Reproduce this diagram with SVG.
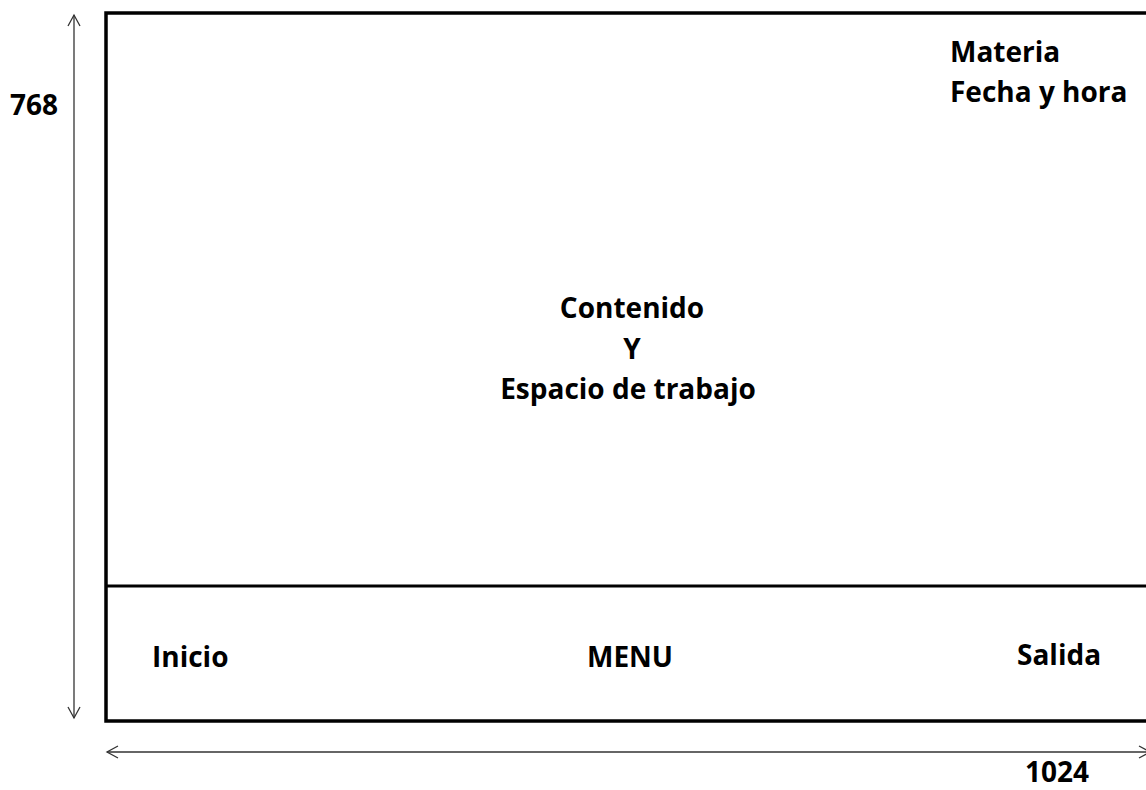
<svg xmlns="http://www.w3.org/2000/svg" width="1146" height="790" viewBox="0 0 1146 790">
<style>
.t{font-family:"Open Sans",Lato,"Liberation Sans",sans-serif;font-weight:bold;font-size:28px;fill:#000}
.dim{stroke:#333;stroke-width:1.3;fill:none}
</style>
<defs>
<marker id="ah" markerWidth="14" markerHeight="14" refX="12" refY="7" orient="auto-start-reverse" markerUnits="userSpaceOnUse">
<path d="M1,1 L12,7 L1,13" fill="none" stroke="#333" stroke-width="1.3"/>
</marker>
</defs>
<rect width="1146" height="790" fill="#fff"/>
<g id="screen">
<path d="M1150,13 H106 V721 H1150" fill="none" stroke="#000" stroke-width="3.5"/>
<text class="t" x="950" y="62">Materia</text>
<text class="t" x="950" y="102">Fecha y hora</text>
<text class="t" x="632" y="318" text-anchor="middle">Contenido</text>
<text class="t" x="632" y="359" text-anchor="middle">Y</text>
<text class="t" x="628" y="399" text-anchor="middle">Espacio de trabajo</text>
</g>
<g id="menu">
<line x1="106" y1="586" x2="1150" y2="586" stroke="#000" stroke-width="3"/>
<text class="t" x="152" y="667">Inicio</text>
<text class="t" x="630" y="667" text-anchor="middle">MENU</text>
<text class="t" x="1017" y="665">Salida</text>
</g>
<g id="connectors">
<line class="dim" x1="74" y1="15" x2="74" y2="718" marker-start="url(#ah)" marker-end="url(#ah)"/>
<line class="dim" x1="107" y1="752" x2="1150" y2="752" marker-start="url(#ah)" marker-end="url(#ah)"/>
</g>
<g id="labels">
<text class="t" x="10" y="115">768</text>
<text class="t" x="1025" y="782">1024</text>
</g>
</svg>
